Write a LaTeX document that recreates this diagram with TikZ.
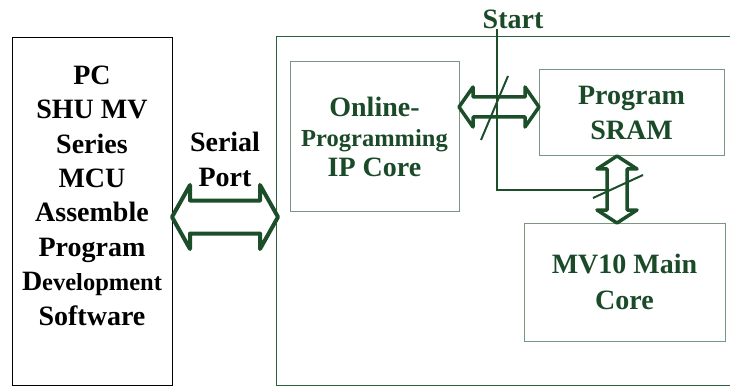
\documentclass[tikz,border=0pt]{standalone}
\usepackage{fontspec}
\setmainfont{Liberation Serif}[BoldFont={Liberation Serif Bold}]
\usetikzlibrary{calc}
\definecolor{tg}{RGB}{26,74,40}
\definecolor{ag}{RGB}{28,78,42}
\definecolor{bxg}{RGB}{120,150,130}
\definecolor{bigg}{RGB}{45,95,60}
\begin{document}
\begin{tikzpicture}[x=1pt,y=1pt,
  txt/.style={font=\rmfamily\bfseries\fontsize{28}{34.4}\selectfont, align=center, inner sep=0pt},
  box/.style={draw=bxg, line width=1pt, inner sep=0pt, outer sep=0pt, align=center, text=tg,
              font=\rmfamily\bfseries\fontsize{28}{35}\selectfont},
  hollow/.style={draw=ag, line width=3.5pt, line join=round},
  bus/.style={draw=ag, line width=2pt}
]
\useasboundingbox (0,0) rectangle (730,386);
% outer boxes
\node[draw=black, line width=1pt, minimum width=160pt, minimum height=347pt, inner sep=0pt, outer sep=0pt]
  (pc) at (92,174.5) {};
\node[txt] (pctext) at (92,190.5)
  {PC\\SHU MV\\Series\\MCU\\Assemble\\Program\\D{\fontsize{24.5}{34.4}\selectfont evelopment}\\Software};
\node[draw=bigg, line width=1pt, minimum width=464pt, minimum height=348pt, inner sep=0pt, outer sep=0pt]
  (big) at (508,175) {};
% inner boxes
\node[box, minimum width=169pt, minimum height=149pt, font=\rmfamily\bfseries\fontsize{28}{30}\selectfont] (online) at (374.5,249.5)
  {Online-\\{\fontsize{24.5}{30}\selectfont Programming}\\IP Core};
\node[box, minimum width=185pt, minimum height=86pt] (sram) at (631.5,273) {Program\\SRAM};
\node[box, minimum width=201pt, minimum height=118pt, font=\rmfamily\bfseries\fontsize{28}{36}\selectfont] (mv) at (624.5,104) {MV10 Main\\Core};
% labels
\node[txt, text=tg] (start) at (513,367) {Start};
\node[txt] (ser) at (225,226.5) {Serial\\Port};
% serial port arrow
\coordinate (s1) at (pc.east |- 0,169);
\coordinate (s2) at ($(big.west |- 0,169)+(2,0)$);
\draw[hollow, line width=4pt] (s1) -- ++(18,32) -- ++(0,-15.5) -- ($(s2)+(-18,16.5)$) -- ++(0,15.5) -- (s2)
  -- ++(-18,-32) -- ++(0,15.5) -- ($(s1)+(18,-16.5)$) -- ++(0,-15.5) -- cycle;
% online <-> sram arrow
\coordinate (m1) at (online.east |- 0,279);
\coordinate (m2) at (sram.west |- 0,279);
\draw[hollow] (m1) -- ++(14,20) -- ++(0,-10) -- ($(m2)+(-14,10)$) -- ++(0,10) -- (m2)
  -- ++(-14,-20) -- ++(0,10) -- ($(m1)+(14,-10)$) -- ++(0,-10) -- cycle;
% sram <-> mv arrow
\coordinate (v1) at (sram.south -| 617,0);
\coordinate (v2) at (mv.north -| 617,0);
\draw[hollow] (v1) -- ++(20,-13) -- ++(-10,0) -- ($(v2)+(10,13)$) -- ++(10,0) -- (v2)
  -- ++(-20,13) -- ++(10,0) -- ($(v1)+(-10,-13)$) -- ++(-10,0) -- cycle;
% start line
\coordinate (j) at (607,196);
\draw[bus] (start.south -| 497,0) |- (j);
% slashes
\draw[bus] (481,246) -- (508,310);
\draw[bus] (593,188) -- (643,211);
\end{tikzpicture}
\end{document}
